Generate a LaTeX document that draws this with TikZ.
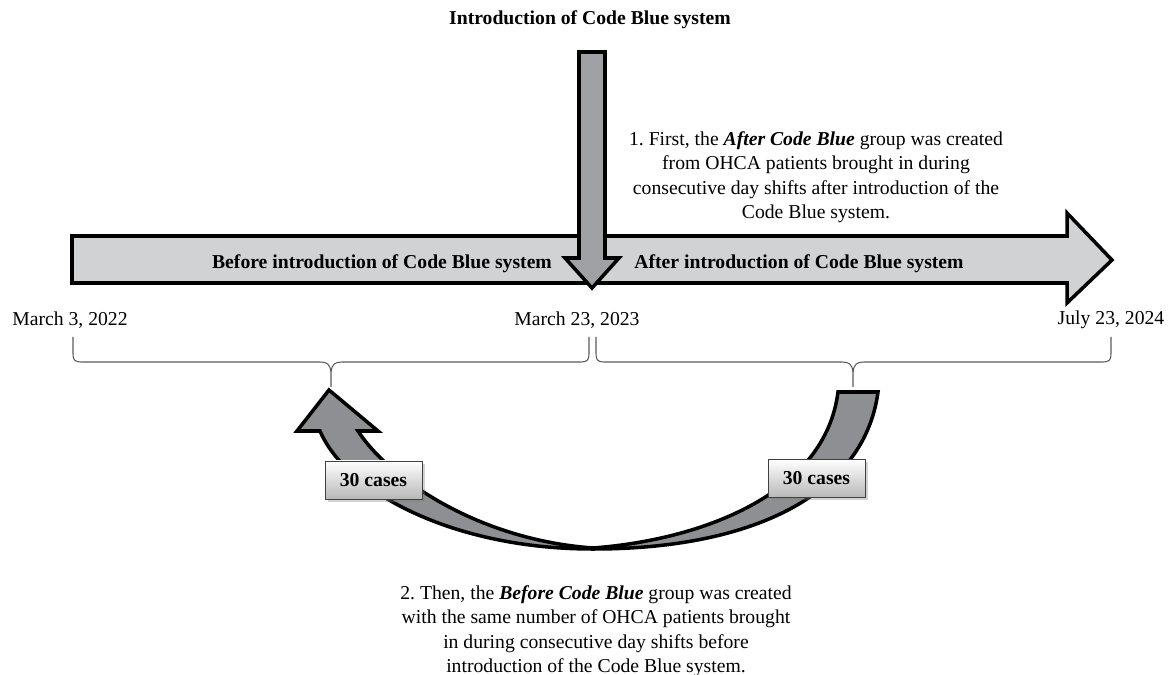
\documentclass[tikz,border=0pt]{standalone}
\usepackage{fontspec}
\setmainfont{Liberation Serif}
\usetikzlibrary{shadows}
\definecolor{barfill}{HTML}{D1D2D4}
\definecolor{downfill}{HTML}{A0A1A4}
\definecolor{curvefill}{HTML}{8E8F92}
\definecolor{braceline}{HTML}{5A5A5A}
\frenchspacing
\begin{document}
\begin{tikzpicture}[x=0.02cm,y=-0.02cm,
  txt/.style={font=\fontsize{11.2}{13.9}\selectfont, align=center, inner sep=0pt},
  btxt/.style={font=\fontsize{11.2}{13.9}\selectfont\bfseries, align=center, inner sep=0pt},
  shapeline/.style={draw=black, line width=2pt, line join=miter},
  bracestyle/.style={draw=braceline, line width=0.6pt},
  casebox/.style={draw=black!75, line width=0.5pt, top color=white, bottom color=black!28,
    minimum width=97*0.02cm, minimum height=38*0.02cm, inner sep=0pt,
    font=\fontsize{11.2}{13.9}\selectfont\bfseries,
    drop shadow={shadow xshift=1.5pt, shadow yshift=-1.5pt, opacity=0.35}}]
\useasboundingbox (0,0) rectangle (1171,675);

% horizontal timeline arrow
\path[shapeline, fill=barfill] (72,236) -- (1067,236) -- (1067,213) -- (1112,260)
  -- (1067,303) -- (1067,283) -- (72,283) -- cycle;

% vertical arrow
\path[shapeline, fill=downfill] (579,52) -- (605,52) -- (605,258) -- (619,258)
  -- (592,288) -- (565,258) -- (579,258) -- cycle;

% texts
\node[btxt] (title) at (590,20) {Introduction of Code Blue system};
\node[btxt] (before) at (382,264) {Before introduction of Code Blue system};
\node[btxt] (after) at (799,264) {After introduction of Code Blue system};
\node[txt] (note1) at (816,177) {1. First, the \textbf{\textit{After Code Blue}} group was created\\
  from OHCA patients brought in during\\
  consecutive day shifts after introduction of the\\
  Code Blue system.};
\node[txt] (d1) at (70,320) {March 3, 2022};
\node[txt] (d2) at (577,320) {March 23, 2023};
\node[txt] (d3) at (1111,320) {July 23, 2024};
\node[txt] (note2) at (596,631) {2. Then, the \textbf{\textit{Before Code Blue}} group was created\\
  with the same number of OHCA patients brought\\
  in during consecutive day shifts before\\
  introduction of the Code Blue system.};

% braces
\path[bracestyle] (73,337) -- (73,354) .. controls (73,360) and (75,362) .. (81,362)
  -- (320,362) .. controls (327,362) and (330,364) .. (331,372) -- (331,387);
\path[bracestyle] (589,337) -- (589,354) .. controls (589,360) and (587,362) .. (581,362)
  -- (342,362) .. controls (335,362) and (332,364) .. (331,372);
\path[bracestyle] (596,337) -- (596,354) .. controls (596,360) and (598,362) .. (604,362)
  -- (842,362) .. controls (849,362) and (852,364) .. (853,372) -- (853,387);
\path[bracestyle] (1111,337) -- (1111,354) .. controls (1111,360) and (1109,362) .. (1103,362)
  -- (864,362) .. controls (857,362) and (854,364) .. (853,372);

% curved arrow: right band (tail)
\path[shapeline, fill=curvefill] (593,548) .. controls (700,540) and (825,495) .. (838,392)
  -- (878,392) .. controls (865,490) and (760,549) .. (593,549) -- cycle;
% curved arrow: left band with head
\path[shapeline, fill=curvefill] (593,548) .. controls (480,540) and (390,480) .. (358,431)
  -- (378,431) -- (329,390) -- (297,431) -- (320,431)
  .. controls (345,490) and (450,549) .. (593,549) -- cycle;

% case boxes
\node[casebox] (c1) at (373.5,480) {30 cases};
\node[casebox] (c2) at (816.5,478.5) {30 cases};
\end{tikzpicture}
\end{document}
